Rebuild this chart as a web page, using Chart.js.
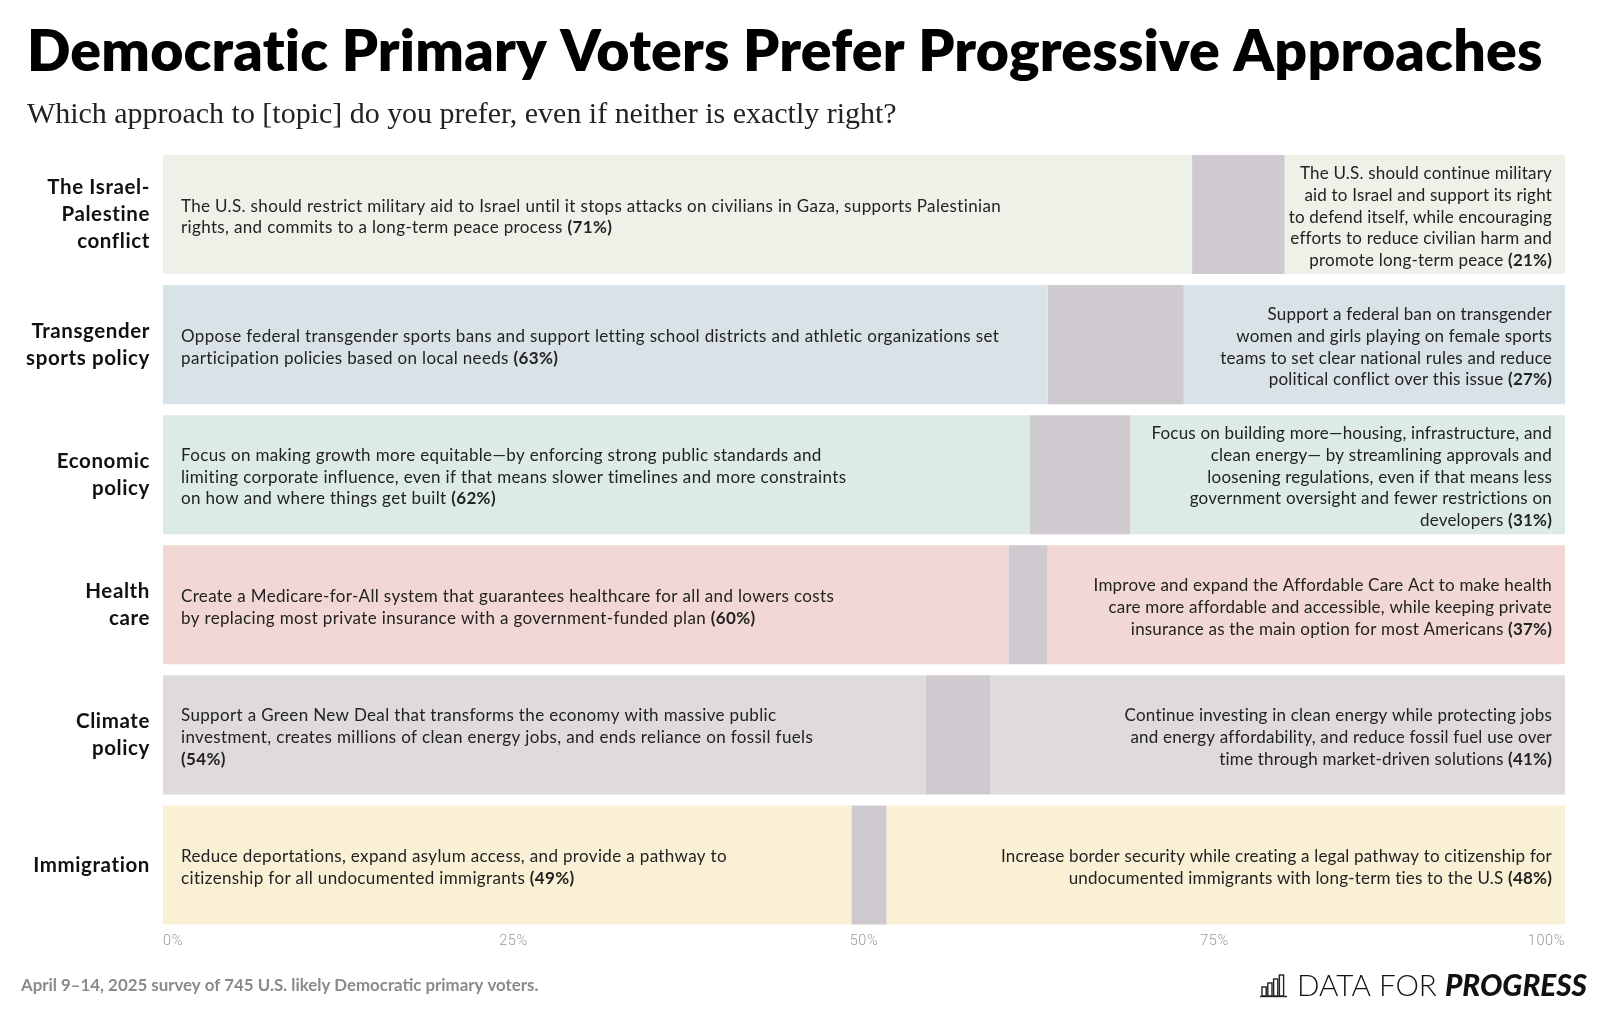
<!DOCTYPE html>
<html>
<head>
<meta charset="utf-8">
<script src="https://cdn.jsdelivr.net/npm/chart.js@4.4.1/dist/chart.umd.min.js"></script>
<style>
  html, body { margin: 0; padding: 0; background: #fff; }
  #contenedor { width: 1600px; height: 1009px; position: relative; }
</style>
</head>
<body>
<div id="contenedor"><canvas id="graficoTemas"></canvas></div>
<script>
// categorias (eje y)
const temas = [
  ["The Israel-", "Palestine", "conflict"],
  ["Transgender", "sports policy"],
  ["Economic", "policy"],
  ["Health", "care"],
  ["Climate", "policy"],
  ["Immigration"]
];

// largo de cada segmento (%)
const progresista = [73.4, 63.1, 61.8, 60.3, 54.4, 49.1];
const noSeguro = [6.6, 9.7, 7.2, 2.8, 4.6, 2.5];
const moderado = [20.0, 27.2, 31.0, 36.9, 41.0, 48.4];

// porcentajes impresos en los textos
const etiquetaProg = [71, 63, 62, 60, 54, 49];
const etiquetaMod = [21, 27, 31, 37, 41, 48];

const ticksX = [0, 25, 50, 75, 100];

const textoProg = [
  ["The U.S. should restrict military aid to Israel until it stops attacks on civilians in Gaza, supports Palestinian",
   "rights, and commits to a long-term peace process"],
  ["Oppose federal transgender sports bans and support letting school districts and athletic organizations set",
   "participation policies based on local needs"],
  ["Focus on making growth more equitable\u2014by enforcing strong public standards and",
   "limiting corporate influence, even if that means slower timelines and more constraints",
   "on how and where things get built"],
  ["Create a Medicare-for-All system that guarantees healthcare for all and lowers costs",
   "by replacing most private insurance with a government-funded plan"],
  ["Support a Green New Deal that transforms the economy with massive public",
   "investment, creates millions of clean energy jobs, and ends reliance on fossil fuels",
   ""],
  ["Reduce deportations, expand asylum access, and provide a pathway to",
   "citizenship for all undocumented immigrants"]
];

const textoMod = [
  ["The U.S. should continue military", "aid to Israel and support its right",
   "to defend itself, while encouraging", "efforts to reduce civilian harm and",
   "promote long-term peace"],
  ["Support a federal ban on transgender", "women and girls playing on female sports",
   "teams to set clear national rules and reduce", "political conflict over this issue"],
  ["Focus on building more\u2014housing, infrastructure, and", "clean energy\u2014 by streamlining approvals and",
   "loosening regulations, even if that means less", "government oversight and fewer restrictions on",
   "developers"],
  ["Improve and expand the Affordable Care Act to make health",
   "care more affordable and accessible, while keeping private",
   "insurance as the main option for most Americans"],
  ["Continue investing in clean energy while protecting jobs",
   "and energy affordability, and reduce fossil fuel use over",
   "time through market-driven solutions"],
  ["Increase border security while creating a legal pathway to citizenship for",
   "undocumented immigrants with long-term ties to the U.S"]
];

const coloresFila = ["#eef1e8", "#d9e2e7", "#dcebe3", "#f2d8d4", "#dedade", "#faf0d5"];
const colorGris = "#cfcacf";

const FUENTE = "Lato, 'Open Sans', sans-serif";
const TAM_TEXTO = 17;

function ajustarFuente(ctx, texto, estilo, familia, anchoObjetivo) {
  ctx.font = `${estilo} 100px ${familia}`;
  const w = ctx.measureText(texto).width;
  return 100 * anchoObjetivo / w;
}

function dibujarLineas(ctx, lineas, negrita, x, cy, alinear, espacio) {
  const lh = 21.8;
  const n = lineas.length;
  ctx.textBaseline = "middle";
  ctx.textAlign = "left";
  ctx.letterSpacing = espacio;
  lineas.forEach((linea, i) => {
    const y = cy + (i - (n - 1) / 2) * lh + 2.5;
    const esUltima = i === n - 1;
    const normal = esUltima && linea !== "" ? linea + " " : linea;
    ctx.font = `400 ${TAM_TEXTO}px ${FUENTE}`;
    const wNormal = ctx.measureText(normal).width;
    let wBold = 0;
    if (esUltima) {
      ctx.font = `700 ${TAM_TEXTO}px ${FUENTE}`;
      wBold = ctx.measureText(negrita).width;
    }
    const x0 = alinear === "right" ? x - wNormal - wBold : x;
    ctx.fillStyle = "#222";
    ctx.font = `400 ${TAM_TEXTO}px ${FUENTE}`;
    ctx.fillText(normal, x0, y);
    if (esUltima) {
      ctx.font = `700 ${TAM_TEXTO}px ${FUENTE}`;
      ctx.fillText(negrita, x0 + wNormal, y);
    }
  });
}

const pluginTextos = {
  id: "textos",
  beforeDraw(chart) {
    // un poco de espacio entre letras para las etiquetas de los ejes
    chart.ctx.letterSpacing = "0.6px";
  },
  afterDatasetsDraw(chart) {
    const ctx = chart.ctx;
    const metaProg = chart.getDatasetMeta(0);
    const metaMod = chart.getDatasetMeta(2);
    ctx.save();
    metaProg.data.forEach((bar, i) => {
      const izq = bar.base;
      const der = metaMod.data[i].x;
      dibujarLineas(ctx, textoProg[i], `(${etiquetaProg[i]}%)`, izq + 18, bar.y, "left", "0.35px");
      dibujarLineas(ctx, textoMod[i], `(${etiquetaMod[i]}%)`, der - 13, bar.y, "right", "0.2px");
    });
    ctx.restore();
  },
  afterDraw(chart) {
    const ctx = chart.ctx;
    ctx.save();
    ctx.textAlign = "left";
    ctx.textBaseline = "alphabetic";
    ctx.letterSpacing = "0.2px";

    // titulo
    const titulo = "Democratic Primary Voters Prefer Progressive Approaches";
    const tTam = ajustarFuente(ctx, titulo, "800", FUENTE, 1511);
    ctx.font = `800 ${tTam}px ${FUENTE}`;
    ctx.fillStyle = "#000";
    ctx.fillText(titulo, 27, 71);

    // subtitulo
    ctx.letterSpacing = "0px";
    const sub = "Which approach to [topic] do you prefer, even if neither is exactly right?";
    const sTam = ajustarFuente(ctx, sub, "400", "'Liberation Serif', serif", 870);
    ctx.font = `400 ${sTam}px 'Liberation Serif', serif`;
    ctx.fillStyle = "#222";
    ctx.fillText(sub, 27, 123);

    // pie
    const pie = "April 9\u201314, 2025 survey of 745 U.S. likely Democratic primary voters.";
    const pTam = ajustarFuente(ctx, pie, "700", FUENTE, 518);
    ctx.font = `700 ${pTam}px ${FUENTE}`;
    ctx.fillStyle = "#8a8a8a";
    ctx.fillText(pie, 21, 991);

    // logo
    const parte1 = "DATA FOR ";
    const parte2 = "PROGRESS";
    ctx.font = `300 29px ${FUENTE}`;
    const w1 = ctx.measureText(parte1).width;
    ctx.font = `italic 900 29px ${FUENTE}`;
    const w2 = ctx.measureText(parte2).width;
    const esc = 290 / (w1 + w2);
    const lTam = 29 * esc;
    ctx.fillStyle = "#111";
    ctx.font = `300 ${lTam}px ${FUENTE}`;
    ctx.fillText(parte1, 1297, 996);
    ctx.font = `italic 900 ${lTam}px ${FUENTE}`;
    ctx.fillText(parte2, 1297 + w1 * esc, 996);

    // icono del logo
    ctx.strokeStyle = "#222";
    ctx.lineWidth = 1.4;
    const alturas = [9, 13, 17, 21];
    alturas.forEach((h, k) => {
      ctx.strokeRect(1262 + k * 5.8, 996 - h, 4.2, h);
    });
    ctx.beginPath();
    ctx.moveTo(1260, 996.5);
    ctx.lineTo(1287, 996.5);
    ctx.stroke();
    ctx.restore();
  }
};

document.addEventListener("DOMContentLoaded", () => {
  const ctx = document.getElementById("graficoTemas").getContext("2d");

  const datasets = [
    {
      label: "Progresista",
      data: progresista,
      backgroundColor: coloresFila,
      borderWidth: 0,
    },
    {
      label: "No seguro",
      data: noSeguro,
      backgroundColor: colorGris,
      borderWidth: 0,
    },
    {
      label: "Moderado",
      data: moderado,
      backgroundColor: coloresFila,
      borderWidth: 0,
    },
  ];

  new Chart(ctx, {
    type: "bar",
    data: {
      labels: temas,
      datasets: datasets,
    },
    plugins: [pluginTextos],
    options: {
      indexAxis: "y",
      responsive: true,
      maintainAspectRatio: false,
      animation: false,
      layout: {
        padding: { top: 149.5, left: 0, right: 35, bottom: 0 }
      },
      datasets: {
        bar: { categoryPercentage: 1, barPercentage: 119 / 130 }
      },
      scales: {
        x: {
          stacked: true,
          min: 0,
          max: 100,
          afterBuildTicks: (scale) => {
            scale.ticks = ticksX.map(v => ({ value: v }));
          },
          afterFit: (scale) => { scale.height = 79; },
          grid: { display: false, drawTicks: false },
          border: { display: false },
          ticks: {
            padding: 3,
            align: "inner",
            color: "#9a9a9a",
            font: { family: "Roboto", size: 14.5, weight: 300 },
            callback: (v) => v + "%",
          }
        },
        y: {
          stacked: true,
          afterFit: (scale) => { scale.width = 163; },
          grid: { display: false, drawTicks: false },
          border: { display: false },
          ticks: {
            padding: 13,
            color: "#111",
            font: { family: FUENTE, size: 20.5, weight: 700, lineHeight: 1.33 },
          }
        }
      },
      plugins: {
        legend: { display: false },
        tooltip: { enabled: false },
        title: { display: false },
      },
    },
  });
});
</script>
</body>
</html>
